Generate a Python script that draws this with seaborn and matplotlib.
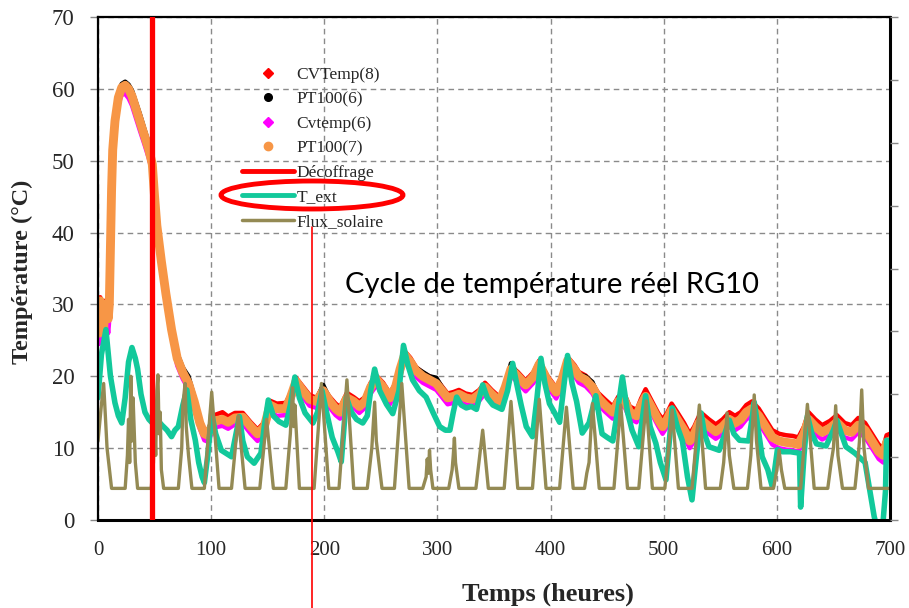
import numpy as np
import pandas as pd
import seaborn as sns
import matplotlib.pyplot as plt
from matplotlib.lines import Line2D
from matplotlib.patches import Ellipse

# ---------------------------------------------------------------- data
# hours at which the concrete sensors are listed
t_beton = [
    0, 1, 2, 3, 4, 5, 6, 7, 8, 9,
    10, 11, 12, 13, 15, 18, 21, 24, 27, 30,
    33, 37, 41, 45, 48, 50, 52, 56, 60, 65,
    70, 75, 80, 85, 90, 94, 97, 103, 110, 115,
    121, 128, 135, 141, 147, 152, 158, 166, 170, 175,
    181, 187, 193, 199, 205, 210, 214, 220, 226, 231,
    236, 241, 246, 252, 258, 263, 267, 271, 276, 281,
    287, 293, 299, 304, 309, 314, 319, 325, 331, 337,
    342, 348, 355, 360, 365, 371, 378, 385, 390, 397,
    405, 410, 415, 421, 425, 431, 437, 442, 448, 455,
    460, 465, 470, 476, 480, 484, 490, 495, 499, 503,
    507, 512, 518, 523, 527, 531, 534, 540, 546, 552,
    558, 563, 568, 573, 578, 584, 590, 596, 602, 608,
    614, 619, 624, 628, 634, 640, 647, 653, 660, 666,
    672, 678, 684, 690, 694, 697, 700,
]

cvtemp8 = [
    30, 27, 31, 28, 29.5, 27.5, 30.5, 29, 30, 29,
    31, 38.5, 46, 51, 55, 58.3, 59.5, 59.8, 59.5, 58.5,
    57, 55, 53, 51, 49, 44.5, 40.5, 35.5, 31, 26.5,
    22.5, 20.5, 19.2, 16.8, 14, 12.6, 12.5, 14.6, 15, 14.4,
    14.9, 14.9, 13.6, 12.6, 13.6, 16.6, 16.2, 16.3, 17.6, 19.8,
    18.6, 17.4, 17, 18.4, 17.1, 16.2, 15.7, 17.7, 17.1, 16.5,
    17.1, 19.1, 20.1, 19.1, 17.6, 19.1, 21.5, 23.5, 22.6, 21.3,
    20.5, 20, 19.6, 18.6, 17.6, 17.8, 18.1, 17.6, 17.4, 18.1,
    19.1, 18.1, 17.1, 19, 21.4, 20.6, 19.4, 20.6, 22.2, 20.1,
    18.4, 20.1, 22.7, 21.6, 20.6, 20.1, 19, 17.7, 16.8, 15.8,
    17.2, 17.6, 15.8, 15.3, 16.9, 18.2, 16.4, 14.9, 14, 14.9,
    16.2, 15, 13.5, 12, 13, 14.4, 14.8, 14, 13.3, 14,
    15, 14.5, 15, 16, 16.5, 15.5, 14, 12.5, 12, 11.8,
    11.7, 11.5, 13, 15, 14, 13.2, 13.8, 14.6, 13.5, 13.2,
    14.2, 13.5, 12, 10.5, 10, 11.8, 12,
]

pt100_6 = [
    29, 26.5, 30, 27.5, 28.5, 27, 29.5, 28.5, 29, 28.5,
    30.5, 37.5, 45.5, 51.5, 55.8, 59.2, 60.7, 61, 60.6, 59.8,
    58.4, 56.5, 54.4, 52.4, 50.3, 45.8, 41.8, 36.8, 32.2, 27.2,
    23.2, 21.2, 20, 17.2, 14, 12.3, 12, 14, 14.2, 13.8,
    14.4, 14.5, 13.2, 12.2, 13.2, 16.2, 15.7, 15.7, 17.2, 19.5,
    18.3, 17.1, 16.8, 18.8, 16.8, 15.8, 15.3, 17.2, 16.7, 16.1,
    16.7, 18.7, 19.8, 18.7, 17.2, 18.7, 21.2, 23.2, 22.3, 21.2,
    20.6, 20, 19.8, 18.5, 17.3, 17.4, 17.7, 17.2, 17, 17.7,
    18.7, 17.7, 16.7, 18.8, 21.8, 20.3, 19, 20.2, 21.9, 19.7,
    18, 19.7, 22.4, 21.3, 20.3, 20, 19.2, 17.3, 16.2, 15.2,
    16.7, 17, 15.2, 14.7, 16.2, 17.4, 15.7, 14.2, 13.2, 14.2,
    15.5, 14.2, 12.7, 11.2, 12.2, 13.7, 14, 13.2, 12.5, 13.2,
    14.2, 13.7, 14.2, 15.2, 15.7, 14.7, 13.2, 11.7, 11.2, 11,
    10.9, 10.7, 12.2, 14.2, 13.2, 12.4, 13, 13.8, 12.7, 12.4,
    13.4, 12.7, 11.2, 9.7, 9.2, 11, 11.2,
]

cvtemp6 = [
    27, 24.5, 28, 25, 27, 24, 28, 26, 27.5, 26,
    28, 36, 44, 50, 54.5, 57.8, 59.2, 59.3, 58.7, 57.7,
    56.2, 54.2, 52.3, 50.3, 48.5, 44, 40, 35, 30.5, 25.5,
    21.5, 19.6, 18.2, 15.6, 12.7, 11.1, 10.9, 12.9, 13.1, 12.7,
    13.3, 13.4, 12, 11, 12, 15, 14.5, 14.6, 16.1, 18.4,
    17.1, 15.9, 15.6, 17.1, 15.6, 14.6, 14.1, 16.1, 15.6, 14.9,
    15.6, 17.6, 18.7, 17.6, 16.1, 17.6, 20.1, 22.1, 21.1, 19.9,
    19.1, 18.6, 18.1, 17.1, 16.1, 16.3, 16.6, 16.1, 15.9, 16.6,
    17.6, 16.6, 15.6, 17.6, 20.1, 19.1, 17.9, 19.1, 20.8, 18.6,
    16.9, 18.6, 21.3, 20.1, 19.1, 18.6, 17.6, 16.1, 15.1, 14.1,
    15.6, 15.9, 14.1, 13.6, 15.1, 16.3, 14.6, 13.1, 12, 13,
    14.3, 13, 11.5, 10, 11, 12.5, 12.8, 12, 11.3, 12,
    13, 12.5, 13, 14, 14.5, 13.5, 12, 10.5, 10, 9.8,
    9.7, 9.5, 11, 13, 12, 11.2, 11.8, 12.6, 11.5, 11.2,
    12.2, 11.5, 10, 8.5, 8, 9.8, 10,
]

pt100_7 = [
    29.5, 26, 30.5, 27, 29, 26.5, 30, 28, 29.5, 28,
    30, 38, 46, 51.5, 55.5, 58.8, 60.2, 60.5, 60, 59,
    57.5, 55.5, 53.5, 51.5, 49.5, 45, 41, 36, 31.5, 26.5,
    22.5, 20.5, 19, 16.5, 13.5, 12, 11.8, 13.8, 14, 13.6,
    14.2, 14.3, 13, 12, 13, 16, 15.5, 15.5, 17, 19.3,
    18, 16.8, 16.5, 18, 16.5, 15.5, 15, 17, 16.5, 15.8,
    16.5, 18.5, 19.6, 18.5, 17, 18.5, 21, 23, 22, 20.8,
    20, 19.5, 19, 18, 17, 17.2, 17.5, 17, 16.8, 17.5,
    18.5, 17.5, 16.5, 18.5, 21, 20, 18.8, 20, 21.7, 19.5,
    17.8, 19.5, 22.2, 21, 20, 19.5, 18.5, 17, 16, 15,
    16.5, 16.8, 15, 14.5, 16, 17.2, 15.5, 14, 13, 14,
    15.3, 14, 12.5, 11, 12, 13.5, 13.8, 13, 12.3, 13,
    14, 13.5, 14, 15, 15.5, 14.5, 13, 11.5, 11, 10.8,
    10.7, 10.5, 12, 14, 13, 12.2, 12.8, 13.6, 12.5, 12.2,
    13.2, 12.5, 11, 9.5, 9, 10.8, 11,
]

# outdoor air temperature
t_ext_h = [
    0, 3, 7, 11, 15, 18, 21, 24, 27, 30,
    33, 35, 38, 41.5, 45, 48, 52, 56.5, 61, 65,
    68, 71, 75, 78.5, 82, 86, 89, 92, 94, 97,
    100.5, 104, 109, 114, 118, 122, 125, 128, 132, 138,
    144, 147, 150.5, 155, 160, 166, 170, 174, 178, 183,
    190, 194, 198, 202, 207, 212, 215, 217, 219.5, 224,
    228.5, 234, 238, 241, 244.5, 249, 255, 260.5, 266, 270,
    274, 278, 284, 290, 296, 302, 307, 311, 314, 317,
    321, 325.5, 330, 334.5, 337, 340, 344, 349, 357, 362,
    366.5, 370, 374, 378.5, 384, 388, 391.5, 395, 399, 404,
    408, 412, 415, 419, 423, 428, 434, 440, 445.5, 450,
    455, 460, 463.5, 468, 472, 478, 481, 484, 488, 493,
    497, 502, 505, 507.5, 512, 516.5, 521, 525, 529, 533,
    536, 540, 549, 554, 558, 562, 567, 575, 578, 580,
    584, 587, 592, 596, 600.5, 605, 612, 620, 621, 624,
    627, 631, 635, 643.5, 650, 653, 657, 661, 669, 678,
    686, 690, 693, 696, 697, 700,
]
t_ext = [
    17, 23, 26.5, 20, 16.3, 14.5, 13.5, 17, 22, 24,
    22.5, 21, 17.5, 15, 14, 13.5, 14, 13.2, 12.5, 11.6,
    12.5, 13, 16, 18.1, 14, 11.1, 8, 6, 5.2, 9,
    14.8, 12, 9.7, 9.2, 8.8, 12, 14.4, 11, 8.8, 7.9,
    9.3, 13, 16.7, 14.5, 13.7, 13.2, 16, 19.9, 17, 14.9,
    13.5, 15, 18, 15, 11.5, 9.5, 8.1, 12, 17.1, 15,
    14, 13.5, 14.5, 18, 21, 18, 16.1, 14.8, 18, 24.3,
    21.5, 19.5, 18, 17.1, 15, 13, 12.5, 12.5, 15, 17.1,
    16, 15.6, 15.8, 15.4, 17, 18.8, 17, 16, 15.4, 18,
    21.8, 19, 16, 13, 11.6, 17, 22.5, 19, 16.2, 14.8,
    13.6, 19, 22.9, 19, 16.5, 12.1, 13.5, 17.3, 12, 11.5,
    11, 16, 19.9, 15, 12.5, 10.2, 14, 17.3, 13, 10.7,
    8, 5.6, 11, 15.6, 13, 11, 6, 2.8, 9, 14.9,
    12, 10.2, 9.7, 12, 13.9, 12, 11.1, 11, 14, 16.4,
    12, 8.8, 7, 4.6, 9.8, 9.5, 9.5, 9.3, 1.8, 9,
    14.5, 12, 10.6, 10.3, 12.5, 13.9, 12, 10.2, 9.3, 8,
    0.5, -2, -2, 4, 11.1, 11,
]

# solar flux, drawn on the temperature scale
flux_h = [
    0, 3, 5, 8, 12,
    24, 26, 27, 28, 29, 30, 31, 33, 35,
    47, 49, 50, 51, 52, 53, 54, 55, 56, 58,
    71, 74, 75, 77, 78, 80, 83,
    94, 100.5, 107,
    118, 124, 130,
    143, 149, 155,
    166, 170, 172, 173, 174, 178,
    191, 197.5, 204,
    213, 220, 226,
    238, 242, 244.5, 246, 251,
    262, 268.5, 275,
    287, 290, 291, 292, 293, 294, 296,
    310, 313, 314, 315, 316, 319,
    334, 340, 345,
    359, 365, 371,
    384, 390, 396,
    408, 414, 420,
    430, 432, 434, 437, 443,
    456, 462, 468,
    478, 484.5, 490,
    501, 507.5, 513,
    525, 531.5, 537,
    550, 553, 556, 558, 562,
    574, 577, 578, 580, 582, 586,
    597, 600, 602, 604, 607,
    621, 627, 633,
    645, 648, 650, 652, 654, 658,
    669, 672, 673, 675, 677, 681,
    700,
]
flux = [
    11, 16, 19, 10, 4.4,
    4.4, 9, 14, 8, 20, 11, 17, 8, 4.4,
    4.4, 8, 14, 9, 18, 20.2, 12, 15, 7, 4.4,
    4.4, 10, 16, 19, 13, 9, 4.4,
    4.4, 17.8, 4.4,
    4.4, 14.5, 4.4,
    4.4, 14, 4.4,
    4.4, 12, 18.4, 13, 16, 4.4,
    4.4, 19, 4.4,
    4.4, 19.5, 4.4,
    4.4, 10, 16.4, 11, 4.4,
    4.4, 19, 4.4,
    4.4, 6, 8.5, 6.5, 9.7, 7, 4.4,
    4.4, 7, 9, 11.4, 8, 4.4,
    4.4, 12.5, 4.4,
    4.4, 16.5, 4.4,
    4.4, 16.8, 4.4,
    4.4, 15.7, 4.4,
    4.4, 6.5, 8, 16.2, 4.4,
    4.4, 16, 4.4,
    4.4, 16.6, 4.4,
    4.4, 15.3, 4.4,
    4.4, 16, 4.4,
    4.4, 8, 14.9, 9, 4.4,
    4.4, 9, 12, 17.4, 11, 4.4,
    4.4, 7, 9.7, 7, 4.4,
    4.4, 16.1, 4.4,
    4.4, 8, 10, 15.9, 9, 4.4,
    4.4, 9, 11, 18.1, 10, 4.4,
    4.4,
]

decoffrage_h = 47.5

labels = ["CVTemp(8)", "PT100(6)", "Cvtemp(6)", "PT100(7)",
          "Décoffrage", "T_ext", "Flux_solaire"]
colors = ["#FF0000", "#000000", "#FF00FF", "#F79646",
          "#FF0000", "#12C99B", "#948A54"]

# ---------------------------------------------------------------- figure
sns.set_theme(style="white")
plt.rcParams["font.family"] = ["Liberation Serif", "DejaVu Serif"]

fig = plt.figure(figsize=(9.09, 6.08), dpi=100)
ax = fig.add_axes([98 / 909, 1 - 520 / 608, (890 - 98) / 909, (520 - 17) / 608])

sensors = [cvtemp8, pt100_6, cvtemp6, pt100_7]
widths = [3.2, 3.2, 3.2, 6.4]
for vals, col, lw in zip(sensors, colors[:4], widths):
    sns.lineplot(x=t_beton, y=vals, ax=ax, color=col, lw=lw,
                 estimator=None, sort=False, legend=False,
                 solid_joinstyle="round", solid_capstyle="round")

sns.lineplot(x=t_ext_h, y=t_ext, ax=ax, color=colors[5], lw=4.0,
             estimator=None, sort=False, legend=False)
sns.lineplot(x=flux_h, y=flux, ax=ax, color=colors[6], lw=2.4,
             estimator=None, sort=False, legend=False)
ax.axvline(decoffrage_h, color=colors[4], lw=3.8, zorder=5)

ax.set_xlim(0, 700)
ax.set_ylim(0, 70)
ax.set_xticks(range(0, 701, 100))
ax.set_yticks(range(0, 71, 10))
ax.grid(True, color="#8a8a8a", lw=1.0, ls=(0, (4, 3)))
ax.set_axisbelow(True)
for side, lw in [("left", 1.6), ("bottom", 2.2), ("top", 1.6), ("right", 2.2)]:
    ax.spines[side].set_color("black")
    ax.spines[side].set_linewidth(lw)
ax.tick_params(axis="both", which="both", direction="out", length=6,
               width=1, color="#888888")
ax.tick_params(axis="y", pad=11, labelsize=16.5)
ax.tick_params(axis="x", pad=9, labelsize=15)
ax.set_xlabel("Temps (heures)", fontsize=19, fontweight="bold")
ax.xaxis.set_label_coords((548 - 98) / 792, (520 - 583) / 503)
ax.set_ylabel("Température (°C)", fontsize=17.5, fontweight="bold")
ax.yaxis.set_label_coords((33 - 98) / 792, (520 - 272) / 503)

# secondary scale on the right, ticks only
ax2 = ax.twinx()
ax2.set_ylim(0, 8)
ax2.set_yticks(range(0, 9))
ax2.set_yticklabels([])
ax2.grid(False)
ax2.tick_params(axis="y", direction="out", length=6, width=1, color="#888888")
for side in ax2.spines:
    ax2.spines[side].set_visible(False)

# legend
handles = [
    Line2D([], [], ls="none", marker="D", ms=5, color=colors[0]),
    Line2D([], [], ls="none", marker="o", ms=5.5, color=colors[1]),
    Line2D([], [], ls="none", marker="D", ms=5, color=colors[2]),
    Line2D([], [], ls="none", marker="o", ms=6, color=colors[3]),
    Line2D([], [], color=colors[4], lw=3.5),
    Line2D([], [], color=colors[5], lw=3.5),
    Line2D([], [], color=colors[6], lw=2.5),
]
fig.legend(handles, labels, loc="upper left",
           bbox_to_anchor=(226 / 909, 1 - 51 / 608), frameon=False,
           fontsize=12.5, handlelength=3.0, handletextpad=0.15,
           labelspacing=0.48, borderpad=0.4)

# callout on the outdoor temperature entry
fig.add_artist(Ellipse((312 / 909, 1 - 195 / 608), 182 / 909, 28 / 608,
                       transform=fig.transFigure, fill=False,
                       edgecolor="#FF0000", lw=3.5))
fig.add_artist(Line2D([312 / 909, 312 / 909], [1 - 227 / 608, 0],
                      transform=fig.transFigure, color="#FF0000", lw=1.2))
fig.text(345 / 909, 1 - 285 / 608, "Cycle de température réel RG10",
         family=["Lato", "DejaVu Sans"], fontsize=21, va="center", ha="left",
         color="black")

fig.savefig("out.png", dpi=100)
